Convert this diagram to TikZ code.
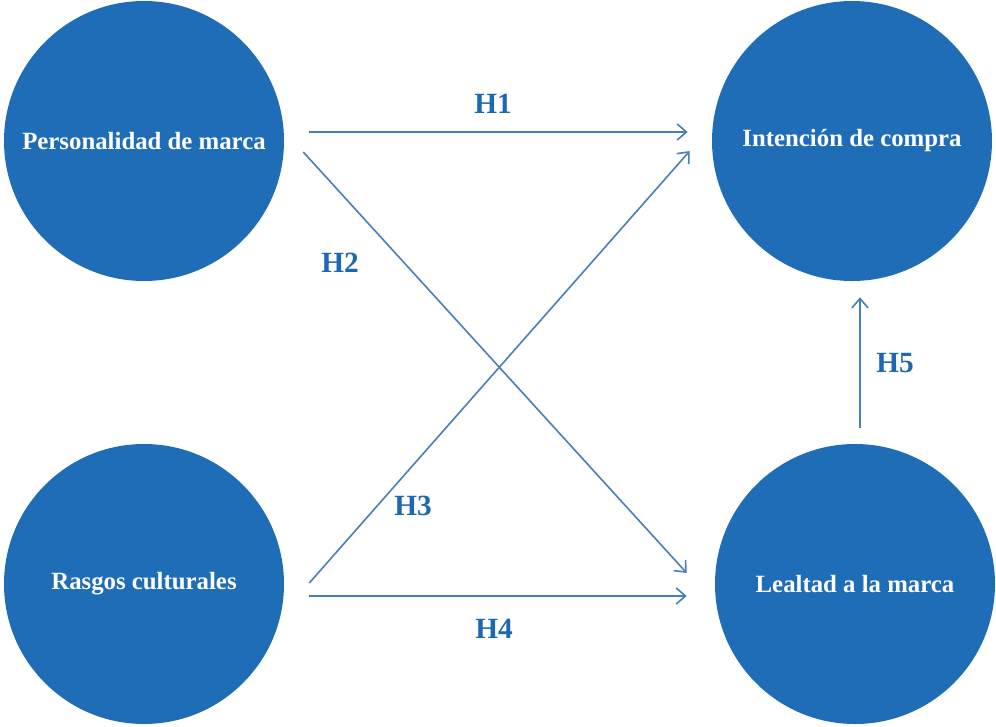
\documentclass[tikz,border=0pt]{standalone}
\usepackage{fontspec}
\setmainfont{Liberation Serif}
\usetikzlibrary{arrows.meta}
\definecolor{circblue}{RGB}{31,109,183}
\definecolor{lineblue}{RGB}{72,126,186}
\definecolor{labblue}{RGB}{30,104,178}
\tikzset{
  construct/.style={circle, fill=circblue, minimum size=210pt, inner sep=0pt,
    text=white, font=\fontsize{18.6}{22}\selectfont\bfseries},
  hyp/.style={draw=lineblue, line width=1.2pt,
    -{Straight Barb[length=7pt, width=12pt, line width=1.2pt]}},
  hlabel/.style={text=labblue, font=\fontsize{22}{26}\selectfont\bfseries}
}
\begin{document}
\begin{tikzpicture}[x=0.75pt, y=-0.75pt]
\useasboundingbox (0,0) rectangle (996,726);
\node[construct] (PM) at (144,141) {Personalidad de marca};
\node[construct] (IC) at (852,141) {Intención de compra};
\node[construct] (RC) at (144,584) {Rasgos culturales};
\node[construct] (LM) at (855,584) {Lealtad a la marca};
% hypotheses
\draw[hyp] ([shift={(25,-9)}]PM.east) -- ([shift={(-24,-9)}]IC.west);
\draw[hyp] ([shift={(19,11)}]PM.east) -- ([shift={(-28,-11)}]LM.west);
\draw[hyp] ([shift={(25,-1)}]RC.east) -- ([shift={(-22,10)}]IC.west);
\draw[hyp] ([shift={(25,12)}]RC.east) -- ([shift={(-28,12)}]LM.west);
\draw[hyp] ([shift={(5,-16)}]LM.north) -- ([shift={(8,16)}]IC.south);
\node[hlabel] (H1) at (493,104) {H1};
\node[hlabel] (H2) at (340,263) {H2};
\node[hlabel] (H3) at (413,506) {H3};
\node[hlabel] (H4) at (494,629) {H4};
\node[hlabel] (H5) at (895,363) {H5};
\end{tikzpicture}
\end{document}
